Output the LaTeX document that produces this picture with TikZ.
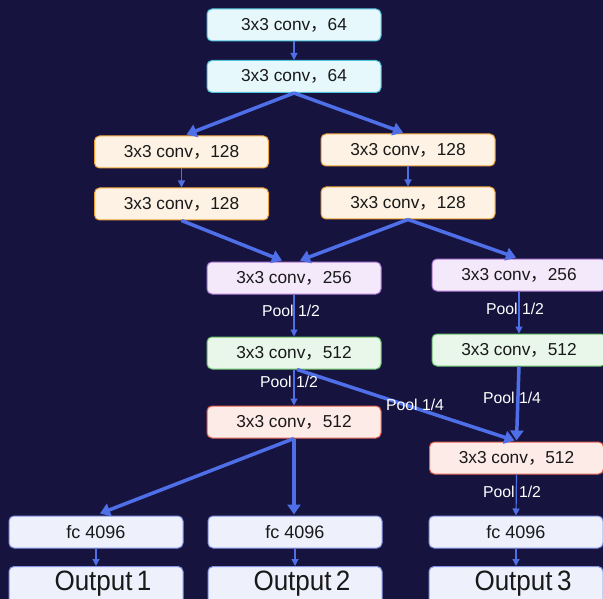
\documentclass[tikz,border=0pt]{standalone}
\usepackage{fontspec}
\setmainfont{Liberation Sans}
\newfontfamily\cjk{Noto Sans CJK SC}
\usetikzlibrary{arrows.meta,calc}

\definecolor{bg}{HTML}{16143E}
\definecolor{arr}{HTML}{4E6FE8}
\definecolor{cyfill}{HTML}{E6F8FC}\definecolor{cyline}{HTML}{4FC3DC}
\definecolor{orfill}{HTML}{FDF2E3}\definecolor{orline}{HTML}{EFA236}
\definecolor{pufill}{HTML}{F4E9FB}\definecolor{puline}{HTML}{B07AD8}
\definecolor{grfill}{HTML}{E9F7EA}\definecolor{grline}{HTML}{6CC36C}
\definecolor{rdfill}{HTML}{FDEBE7}\definecolor{rdline}{HTML}{E3614F}
\definecolor{fcfill}{HTML}{EEF1FC}\definecolor{fcline}{HTML}{8595E4}

\newcommand\convtext[1]{3x3 conv{\cjk ，}#1}
\newcommand\outtext[1]{\hspace*{14pt}\scalebox{0.93}[1]{Output\,#1}}

\tikzset{
  box/.style={draw, line width=1pt, rounded corners=5pt, minimum width=174pt,
    minimum height=32pt, inner sep=0pt, text=black!90,
    font=\fontsize{17.3}{20}\selectfont},
  cybox/.style={box, fill=cyfill, draw=cyline},
  orbox/.style={box, fill=orfill, draw=orline},
  pubox/.style={box, fill=pufill, draw=puline},
  grbox/.style={box, fill=grfill, draw=grline},
  rdbox/.style={box, fill=rdfill, draw=rdline},
  fcbox/.style={box, fill=fcfill, draw=fcline, font=\fontsize{18}{21}\selectfont},
  outbox/.style={box, fill=fcfill, draw=fcline, minimum height=0pt, inner sep=3pt,
    text height=21pt, text depth=24pt, font=\fontsize{28}{31}\selectfont},
  thinarrow/.style={draw=arr, line width=1.2pt, -{Triangle[length=7pt,width=7pt]}},
  thickarrow/.style={draw=arr, line width=3.5pt, -{Triangle[length=10pt,width=13pt]}},
  lbl/.style={text=white, inner sep=0pt, font=\fontsize{15.8}{18}\selectfont},
}

\begin{document}
\begin{tikzpicture}[x=1pt,y=-1pt]
  \fill[bg] (0,0) rectangle (603,599);
  \useasboundingbox (0,0) rectangle (603,599);

  % stem
  \node[cybox] (a1) at (294,25) {\convtext{64}};
  \node[cybox] (a2) at (294,76.5) {\convtext{64}};

  % two 128 branches
  \node[orbox] (b1) at (181.5,152) {\convtext{128}};
  \node[orbox] (b2) at (181.5,204) {\convtext{128}};
  \node[orbox] (c1) at (408,150) {\convtext{128}};
  \node[orbox] (c2) at (408,203) {\convtext{128}};

  % middle column
  \node[pubox] (d1) at (294,278) {\convtext{256}};
  \node[grbox] (e1) at (294,353) {\convtext{512}};
  \node[rdbox] (f1) at (294,422) {\convtext{512}};

  % right column
  \node[pubox] (d2) at (519,275) {\convtext{256}};
  \node[grbox] (e2) at (519,350) {\convtext{512}};
  \node[rdbox] (f2) at (516.5,458) {\convtext{512}};

  % heads
  \node[fcbox] (g1) at (96,532) {fc 4096};
  \node[fcbox] (g2) at (295,532) {fc 4096};
  \node[fcbox] (g3) at (516,532) {fc 4096};
  \node[outbox] (h1) at (96,592) {\outtext{1}};
  \node[outbox] (h2) at (295,592) {\outtext{2}};
  \node[outbox] (h3) at (516,592) {\outtext{3}};

  % thin links
  \draw[thinarrow] (a1) -- (a2);
  \draw[thinarrow] (b1) -- (b2);
  \draw[thinarrow] (c1) -- (c2);
  \draw[thinarrow] (d1) -- (e1);
  \draw[thinarrow] (e1) -- (f1);
  \draw[thinarrow] (d2) -- (e2);
  \draw[thinarrow] (f2.south) -- (g3.north);
  \draw[thinarrow] (g1) -- (h1);
  \draw[thinarrow] (g2) -- (h2);
  \draw[thinarrow] (g3) -- (h3);

  % thick links
  \draw[thickarrow] (a2.south) -- ($(b1.north)+(5,-1)$);
  \draw[thickarrow] (a2.south) -- ($(c1.north)+(-5,-1)$);
  \draw[thickarrow] (b2.south) -- ($(d1.north)+(-12,-1)$);
  \draw[thickarrow] (c2.south) -- ($(d1.north)+(6,-1)$);
  \draw[thickarrow] (c2.south) -- ($(d2.north)+(-3,-1)$);
  \draw[thickarrow] ($(e1.south)+(3,0)$) -- ($(f2.north)+(-2,-1)$);
  \draw[thickarrow] (e2.south) -- ($(f2.north)+(0,-1)$);
  \draw[thickarrow] (f1.south) -- ($(g1.north)+(4,-2)$);
  \draw[thickarrow] (f1.south) -- ($(g2.north)+(-1,-1)$);

  % pooling labels
  \node[lbl] (p1) at (291,311) {Pool 1/2};
  \node[lbl] (p2) at (289,382) {Pool 1/2};
  \node[lbl] (p3) at (515,309) {Pool 1/2};
  \node[lbl] (p4) at (512,398) {Pool 1/4};
  \node[lbl] (p5) at (415,405) {Pool 1/4};
  \node[lbl] (p6) at (512,492) {Pool 1/2};
\end{tikzpicture}
\end{document}
